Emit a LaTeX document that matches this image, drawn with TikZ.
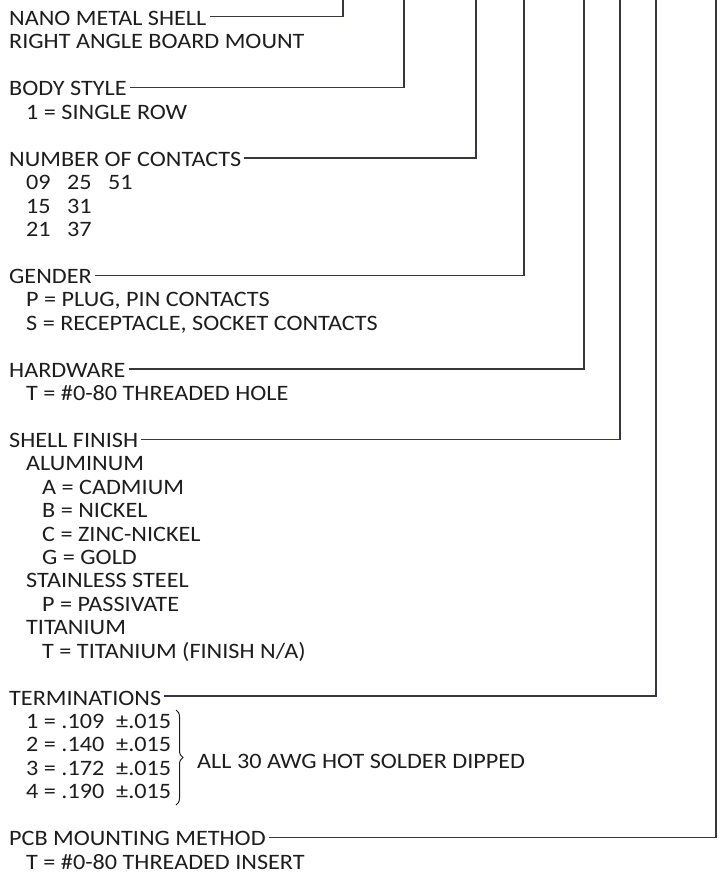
\documentclass[tikz,border=0pt]{standalone}
\usepackage{fontspec}
\setmainfont{Carlito}[FakeStretch=1.1]
\usetikzlibrary{decorations.pathreplacing}
\definecolor{ink}{RGB}{30,28,30}
\definecolor{leadgray}{RGB}{55,55,65}

\begin{document}
\begin{tikzpicture}[
  x=1pt, y=-1pt,
  every node/.style={text=ink, font=\fontsize{22}{26}\selectfont},
  lbl/.style={anchor=base west, inner sep=0pt},
  lead/.style={draw=leadgray, line width=1.3pt},
  brc/.style={draw=ink, line width=1pt, decorate, decoration={brace, amplitude=7pt}}
]
\useasboundingbox (0,0) rectangle (720,878);

% headings
\node[lbl] (nano) at (9,25.5) {NANO METAL SHELL};
\node[lbl] (mount) at (9,48.9) {RIGHT ANGLE BOARD MOUNT};
\node[lbl] (body) at (9,95.8) {BODY STYLE};
\node[lbl] (contacts) at (9,166.1) {NUMBER OF CONTACTS};
\node[lbl] (gender) at (9,283.2) {GENDER};
\node[lbl] (hardware) at (9,377) {HARDWARE};
\node[lbl] (finish) at (9,447.2) {SHELL FINISH};
\node[lbl] (term) at (9,705) {TERMINATIONS};
\node[lbl] (pcb) at (9,845.6) {PCB MOUNTING METHOD};

% options
\node[lbl] (row) at (26,119.2) {1 = SINGLE ROW};
\node[lbl] (cA) at (26,189.5) {\makebox[41pt][l]{09}\makebox[41pt][l]{25}51};
\node[lbl] (cB) at (26,213) {\makebox[41pt][l]{15}31};
\node[lbl] (cC) at (26,236.4) {\makebox[41pt][l]{21}37};
\node[lbl] (plug) at (26,306.7) {P = PLUG, PIN CONTACTS};
\node[lbl] (recp) at (26,330.1) {S = RECEPTACLE, SOCKET CONTACTS};
\node[lbl] (hole) at (26,400.4) {T = \#0-80 THREADED HOLE};
\node[lbl] (alu) at (26,470.7) {ALUMINUM};
\node[lbl] (cad) at (42,494.1) {A = CADMIUM};
\node[lbl] (nic) at (42,517.5) {B = NICKEL};
\node[lbl] (zn) at (42,541) {C = ZINC-NICKEL};
\node[lbl] (gold) at (42,564.4) {G = GOLD};
\node[lbl] (ss) at (26,587.8) {STAINLESS STEEL};
\node[lbl] (pas) at (42,611.3) {P = PASSIVATE};
\node[lbl] (ti) at (26,634.7) {TITANIUM};
\node[lbl] (tin) at (42,658.1) {T = TITANIUM (FINISH N/A)};
\node[lbl] (t1) at (26,728.4) {\makebox[90pt][l]{1 = .109}±.015};
\node[lbl] (t2) at (26,751.8) {\makebox[90pt][l]{2 = .140}±.015};
\node[lbl] (t3) at (26,775.3) {\makebox[90pt][l]{3 = .172}±.015};
\node[lbl] (t4) at (26,798.7) {\makebox[90pt][l]{4 = .190}±.015};
\node[lbl] (awg) at (197,768) {ALL 30 AWG HOT SOLDER DIPPED};
\node[lbl] (insert) at (26,869) {T = \#0-80 THREADED INSERT};

% leader ends at the top edge
\coordinate (nanoTop) at (343,0);
\coordinate (bodyTop) at (404,0);
\coordinate (contactsTop) at (476,0);
\coordinate (genderTop) at (524,0);
\coordinate (hardwareTop) at (584,0);
\coordinate (finishTop) at (620,0);
\coordinate (termTop) at (656,0);
\coordinate (pcbTop) at (716,0);

\draw[lead] ([shift={(3pt,9pt)}]nano.base east) -| (nanoTop);
\draw[lead] ([shift={(3pt,8pt)}]body.base east) -| (bodyTop);
\draw[lead] ([shift={(3pt,8pt)}]contacts.base east) -| (contactsTop);
\draw[lead] ([shift={(3pt,8pt)}]gender.base east) -| (genderTop);
\draw[lead] ([shift={(3pt,8pt)}]hardware.base east) -| (hardwareTop);
\draw[lead] ([shift={(3pt,8pt)}]finish.base east) -| (finishTop);
\draw[lead] ([shift={(3pt,9pt)}]term.base east) -| (termTop);
\draw[lead] ([shift={(3pt,8pt)}]pcb.base east) -| (pcbTop);

% brace
\coordinate (brTop) at (176,710);
\coordinate (brBot) at (176,805);
\draw[brc] (brTop) -- (brBot);

\end{tikzpicture}
\end{document}
